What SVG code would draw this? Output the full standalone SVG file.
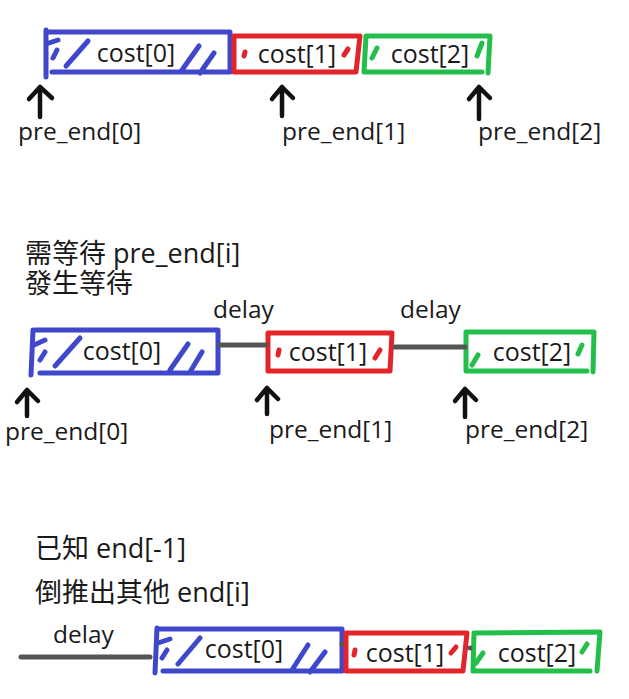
<svg xmlns="http://www.w3.org/2000/svg" width="629" height="699" viewBox="0 0 629 699">
<style>
text{font-family:"Open Sans","Noto Sans CJK TC","Noto Sans",sans-serif;font-size:24.5px;fill:#1a1a1a}
.c{text-anchor:middle;font-size:25px}
.t{font-size:27px}
.b{fill:none;stroke:#3f48cc;stroke-width:5;stroke-linecap:round;stroke-linejoin:round}
.r{fill:none;stroke:#e3242b;stroke-width:5;stroke-linecap:round;stroke-linejoin:round}
.g{fill:none;stroke:#22c04a;stroke-width:5;stroke-linecap:round;stroke-linejoin:round}
.ln{stroke:#555;stroke-width:5;stroke-linecap:round;fill:none}
.ar{stroke:#111;stroke-width:4.5;fill:none;stroke-linecap:round;stroke-linejoin:round}
</style>
<rect width="629" height="699" fill="#fff"/>

<!-- Row 1 -->
<g id="r1-cost0">
<path class="b" d="M46,30 L46,77 M48,32 L230,32 L230,72 L52,72 M46,44 L58,40 M53,58 L57,50 M66,66 L88,41 M182,70 L199,46 M200,73 L214,53"/>
<text class="c" x="136" y="62">cost[0]</text>
</g>
<g id="r1-cost1">
<path class="r" d="M234,36 L360,36 L356,72 L234,72 Z M244,56 L245,52 M344,55 L348,49"/>
<text class="c" x="297" y="63">cost[1]</text>
</g>
<g id="r1-cost2">
<path class="g" d="M364,72 L366,36 L490,36 L488,73 M364,72 L482,72 M372,58 L377,48 M477,56 L482,43"/>
<text class="c" x="430" y="63">cost[2]</text>
</g>
<g id="r1-pre0"><text x="18" y="140">pre_end[0]</text></g>
<g id="r1-pre1"><text x="282" y="140">pre_end[1]</text></g>
<g id="r1-pre2"><text x="478" y="140">pre_end[2]</text></g>

<!-- Row 2 -->
<g id="r2-title">
<text class="t" x="25" y="263">需等待 pre_end[i]</text>
<text class="t" x="25" y="293">發生等待</text>
</g>
<g id="r2-cost0">
<path class="b" d="M33,330 L31,375 M35,330 L218,330 L218,373 L40,373 M34,345 L45,340 M40,360 L45,352 M55,366 L80,338 M170,370 L188,344 M190,372 L202,352"/>
<text class="c" x="122" y="360">cost[0]</text>
</g>
<g id="r2-cost1">
<path class="r" d="M268,333 L392,333 L390,371 L268,371 Z M278,355 L279,350 M375,358 L380,350"/>
<text class="c" x="328" y="361">cost[1]</text>
</g>
<g id="r2-cost2">
<path class="g" d="M466,332 L594,332 L593,372 M466,332 L466,371 L587,371 M472,365 L478,355 M578,354 L582,345"/>
<text class="c" x="532" y="361">cost[2]</text>
</g>
<g id="r2-delay1"><text x="213" y="318">delay</text></g>
<g id="r2-delay2"><text x="400" y="318">delay</text></g>
<g id="r2-pre0"><text x="5" y="440">pre_end[0]</text></g>
<g id="r2-pre1"><text x="269" y="438">pre_end[1]</text></g>
<g id="r2-pre2"><text x="465" y="438">pre_end[2]</text></g>

<!-- Row 3 -->
<g id="r3-title">
<text class="t" x="35" y="558">已知 end[-1]</text>
<text class="t" x="35" y="602">倒推出其他 end[i]</text>
</g>
<g id="r3-delay"><text x="53" y="643">delay</text></g>
<g id="r3-cost0">
<path class="b" d="M157,628 L155,673 M159,629 L342,629 L342,671 L163,671 M158,643 L170,639 M162,658 L167,650 M178,664 L200,638 M292,670 L308,645 M310,672 L325,652"/>
<text class="c" x="244" y="658">cost[0]</text>
</g>
<g id="r3-cost1">
<path class="r" d="M346,633 L467,633 L463,671 L346,671 Z M354,655 L355,650 M451,653 L456,647"/>
<text class="c" x="405" y="662">cost[1]</text>
</g>
<g id="r3-cost2">
<path class="g" d="M473,671 L474,633 L600,632 L597,671 M473,671 L590,671 M476,663 L483,653 M582,652 L587,644"/>
<text class="c" x="537" y="662">cost[2]</text>
</g>

<!-- Connectors -->
<g id="connectors">
<path class="ln" d="M220,345 L266,345"/>
<path class="ln" d="M395,347 L465,347"/>
<path class="ln" d="M21,657 L150,657"/>
<circle cx="342" cy="644" r="2.5" fill="#555"/>
<circle cx="470" cy="648" r="2.5" fill="#555"/>
<path class="ar" d="M40,117 L40,87 M29,99 L40,87 L52,98"/>
<path class="ar" d="M282,116 L282,87 M272,99 L282,87 L293,98"/>
<path class="ar" d="M479,119 L479,87 M469,99 L479,87 L490,98"/>
<path class="ar" d="M27,416 L27,390 M17,402 L27,390 L38,401"/>
<path class="ar" d="M267,414 L267,388 M257,400 L267,388 L278,399"/>
<path class="ar" d="M465,417 L465,389 M455,401 L465,389 L476,400"/>
</g>
</svg>
